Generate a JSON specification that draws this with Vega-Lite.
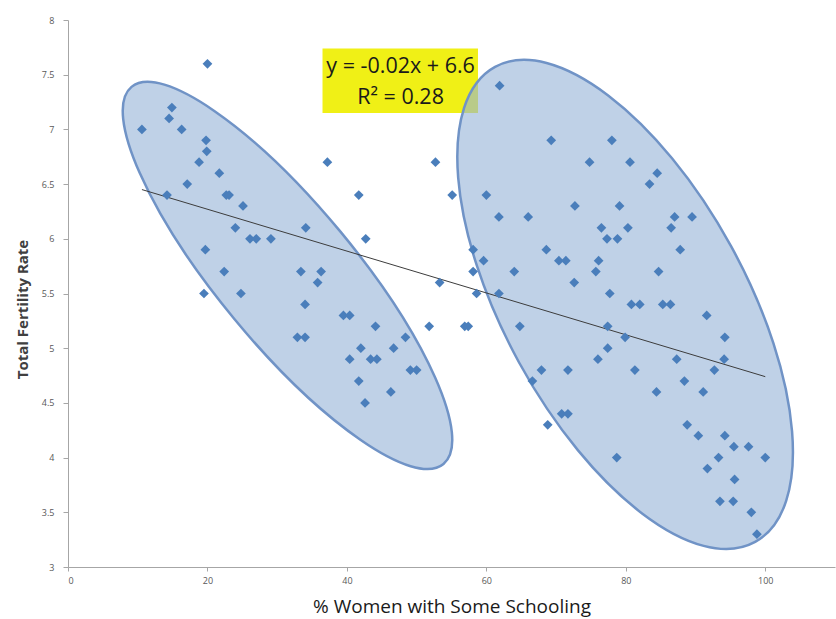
{
  "$schema": "https://vega.github.io/schema/vega-lite/v6.json",
  "width": 767,
  "height": 547,
  "autosize": "none",
  "padding": {"left": 68, "top": 20, "right": 1, "bottom": 52},
  "background": "white",
  "config": {"view": {"stroke": null}},
  "datasets": {
    "countries": [
      {"school": 20.0, "tfr": 7.6}, {"school": 10.6, "tfr": 7.0}, {"school": 14.9, "tfr": 7.2}, {"school": 14.5, "tfr": 7.1},
      {"school": 16.3, "tfr": 7.0}, {"school": 19.8, "tfr": 6.9}, {"school": 19.9, "tfr": 6.8}, {"school": 18.8, "tfr": 6.7},
      {"school": 21.7, "tfr": 6.6}, {"school": 17.1, "tfr": 6.5}, {"school": 14.2, "tfr": 6.4}, {"school": 22.7, "tfr": 6.4},
      {"school": 23.1, "tfr": 6.4}, {"school": 25.1, "tfr": 6.3}, {"school": 24.0, "tfr": 6.1}, {"school": 26.1, "tfr": 6.0},
      {"school": 27.0, "tfr": 6.0}, {"school": 29.1, "tfr": 6.0}, {"school": 19.7, "tfr": 5.9}, {"school": 22.4, "tfr": 5.7},
      {"school": 19.5, "tfr": 5.5}, {"school": 24.8, "tfr": 5.5},
      {"school": 61.9, "tfr": 7.4}, {"school": 37.2, "tfr": 6.7}, {"school": 52.7, "tfr": 6.7}, {"school": 41.7, "tfr": 6.4},
      {"school": 55.1, "tfr": 6.4}, {"school": 60.0, "tfr": 6.4}, {"school": 61.8, "tfr": 6.2}, {"school": 66.0, "tfr": 6.2},
      {"school": 34.1, "tfr": 6.1}, {"school": 42.7, "tfr": 6.0}, {"school": 58.1, "tfr": 5.9}, {"school": 59.6, "tfr": 5.8},
      {"school": 33.4, "tfr": 5.7}, {"school": 36.3, "tfr": 5.7}, {"school": 35.8, "tfr": 5.6}, {"school": 64.0, "tfr": 5.7},
      {"school": 58.1, "tfr": 5.7}, {"school": 53.3, "tfr": 5.6}, {"school": 58.6, "tfr": 5.5}, {"school": 61.8, "tfr": 5.5},
      {"school": 34.0, "tfr": 5.4}, {"school": 39.5, "tfr": 5.3}, {"school": 40.4, "tfr": 5.3}, {"school": 44.1, "tfr": 5.2},
      {"school": 51.8, "tfr": 5.2}, {"school": 56.9, "tfr": 5.2}, {"school": 57.4, "tfr": 5.2}, {"school": 64.8, "tfr": 5.2},
      {"school": 32.9, "tfr": 5.1}, {"school": 34.0, "tfr": 5.1}, {"school": 48.4, "tfr": 5.1}, {"school": 42.0, "tfr": 5.0},
      {"school": 46.7, "tfr": 5.0}, {"school": 40.4, "tfr": 4.9}, {"school": 43.4, "tfr": 4.9}, {"school": 44.3, "tfr": 4.9},
      {"school": 49.1, "tfr": 4.8}, {"school": 50.0, "tfr": 4.8}, {"school": 67.9, "tfr": 4.8}, {"school": 41.7, "tfr": 4.7},
      {"school": 66.6, "tfr": 4.7}, {"school": 46.3, "tfr": 4.6}, {"school": 42.6, "tfr": 4.5}, {"school": 68.8, "tfr": 4.3},
      {"school": 69.3, "tfr": 6.9}, {"school": 78.0, "tfr": 6.9}, {"school": 74.8, "tfr": 6.7}, {"school": 80.6, "tfr": 6.7},
      {"school": 84.5, "tfr": 6.6}, {"school": 83.4, "tfr": 6.5}, {"school": 72.7, "tfr": 6.3}, {"school": 79.1, "tfr": 6.3},
      {"school": 87.0, "tfr": 6.2}, {"school": 89.5, "tfr": 6.2}, {"school": 76.5, "tfr": 6.1}, {"school": 80.3, "tfr": 6.1},
      {"school": 86.5, "tfr": 6.1}, {"school": 77.3, "tfr": 6.0}, {"school": 78.8, "tfr": 6.0}, {"school": 68.6, "tfr": 5.9},
      {"school": 87.8, "tfr": 5.9}, {"school": 70.4, "tfr": 5.8}, {"school": 71.4, "tfr": 5.8}, {"school": 76.1, "tfr": 5.8},
      {"school": 75.7, "tfr": 5.7}, {"school": 84.7, "tfr": 5.7}, {"school": 72.6, "tfr": 5.6}, {"school": 77.7, "tfr": 5.5},
      {"school": 80.8, "tfr": 5.4}, {"school": 82.0, "tfr": 5.4}, {"school": 85.3, "tfr": 5.4}, {"school": 86.4, "tfr": 5.4},
      {"school": 91.6, "tfr": 5.3}, {"school": 94.2, "tfr": 5.1}, {"school": 77.4, "tfr": 5.2}, {"school": 79.9, "tfr": 5.1},
      {"school": 77.4, "tfr": 5.0}, {"school": 76.0, "tfr": 4.9}, {"school": 87.3, "tfr": 4.9}, {"school": 94.1, "tfr": 4.9},
      {"school": 71.7, "tfr": 4.8}, {"school": 81.3, "tfr": 4.8}, {"school": 92.7, "tfr": 4.8}, {"school": 88.4, "tfr": 4.7},
      {"school": 84.4, "tfr": 4.6}, {"school": 91.1, "tfr": 4.6}, {"school": 70.8, "tfr": 4.4}, {"school": 71.7, "tfr": 4.4},
      {"school": 88.8, "tfr": 4.3}, {"school": 90.4, "tfr": 4.2}, {"school": 94.2, "tfr": 4.2}, {"school": 95.5, "tfr": 4.1},
      {"school": 97.6, "tfr": 4.1}, {"school": 93.3, "tfr": 4.0}, {"school": 100.0, "tfr": 4.0}, {"school": 78.7, "tfr": 4.0},
      {"school": 91.7, "tfr": 3.9}, {"school": 95.6, "tfr": 3.8}, {"school": 93.5, "tfr": 3.6}, {"school": 95.4, "tfr": 3.6},
      {"school": 98.0, "tfr": 3.5}, {"school": 98.8, "tfr": 3.3}
    ],
    "box": [{"x1": 36.5, "x2": 58.8, "y1": 7.74, "y2": 7.15}],
    "leftEllipse": [{"cx": 31.48, "cy": 5.665}],
    "rightEllipse": [{"cx": 79.9, "cy": 5.40}],
    "trend": [{"x1": 10.6, "y1": 6.45, "x2": 100, "y2": 4.74}],
    "equation": [
      {"tx": 47.7, "ty": 7.573, "label": "y = -0.02x + 6.6"},
      {"tx": 47.7, "ty": 7.29, "label": "R² = 0.28"}
    ]
  },
  "layer": [
    {
      "data": {"name": "box"},
      "mark": {"type": "rect", "color": "#f0f016"},
      "encoding": {
        "x": {"field": "x1", "type": "quantitative", "scale": {"domain": [0, 109]}},
        "x2": {"field": "x2"},
        "y": {"field": "y1", "type": "quantitative", "scale": {"domain": [3, 8]}},
        "y2": {"field": "y2"}
      }
    },
    {
      "data": {"name": "leftEllipse"},
      "mark": {
        "type": "point",
        "shape": "M 244.7 0 C 244.7 37.94 135.15 68.7 0 68.7 C -135.15 68.7 -244.7 37.94 -244.7 0 C -244.7 -37.94 -135.15 -68.7 0 -68.7 C 135.15 -68.7 244.7 -37.94 244.7 0 Z",
        "size": 4,
        "angle": 50.4,
        "filled": true,
        "fill": "#95b3d7",
        "fillOpacity": 0.6,
        "stroke": "#7093c6",
        "strokeWidth": 2.5,
        "strokeOpacity": 1
      },
      "encoding": {
        "x": {"field": "cx", "type": "quantitative"},
        "y": {"field": "cy", "type": "quantitative"}
      }
    },
    {
      "data": {"name": "rightEllipse"},
      "mark": {
        "type": "point",
        "shape": "M 270.8 0 C 270.8 66.77 149.56 120.9 0 120.9 C -149.56 120.9 -270.8 66.77 -270.8 0 C -270.8 -66.77 -149.56 -120.9 0 -120.9 C 149.56 -120.9 270.8 -66.77 270.8 0 Z",
        "size": 4,
        "angle": 61.3,
        "filled": true,
        "fill": "#95b3d7",
        "fillOpacity": 0.6,
        "stroke": "#7093c6",
        "strokeWidth": 2.5,
        "strokeOpacity": 1
      },
      "encoding": {
        "x": {"field": "cx", "type": "quantitative"},
        "y": {"field": "cy", "type": "quantitative"}
      }
    },
    {
      "data": {"name": "trend"},
      "mark": {"type": "rule", "color": "#3c3c3c", "strokeWidth": 1},
      "encoding": {
        "x": {"field": "x1", "type": "quantitative"},
        "y": {"field": "y1", "type": "quantitative"},
        "x2": {"field": "x2"},
        "y2": {"field": "y2"}
      }
    },
    {
      "data": {"name": "countries"},
      "mark": {"type": "point", "shape": "diamond", "filled": true, "size": 95, "color": "#4a7ebb", "opacity": 1},
      "encoding": {
        "x": {
          "field": "school", "type": "quantitative",
          "axis": {
            "title": "% Women with Some Schooling",
            "values": [0, 20, 40, 60, 80, 100],
            "format": "d",
            "grid": false,
            "domainColor": "#a6a6a6",
            "tickColor": "#a6a6a6",
            "tickSize": 4,
            "labelFont": "Open Sans",
            "labelFontSize": 9,
            "labelColor": "#595959",
            "labelPadding": 5,
            "titleFont": "Open Sans",
            "titleFontSize": 19,
            "titleFontWeight": "normal",
            "titleColor": "#1a1a1a",
            "titlePadding": 12
          }
        },
        "y": {
          "field": "tfr", "type": "quantitative",
          "axis": {
            "title": "Total Fertility Rate",
            "values": [3, 3.5, 4, 4.5, 5, 5.5, 6, 6.5, 7, 7.5, 8],
            "format": "~g",
            "grid": false,
            "domainColor": "#a6a6a6",
            "tickColor": "#a6a6a6",
            "tickSize": 5,
            "labelFont": "Open Sans",
            "labelFontSize": 9,
            "labelColor": "#595959",
            "labelPadding": 9,
            "titleFont": "Open Sans",
            "titleFontSize": 15,
            "titleFontWeight": "bold",
            "titleColor": "#404040",
            "titlePadding": 11,
            "titleY": 289
          }
        }
      }
    },
    {
      "data": {"name": "equation"},
      "mark": {"type": "text", "font": "Open Sans", "fontSize": 21.5, "color": "#1a1a1a", "align": "center", "baseline": "middle"},
      "encoding": {
        "x": {"field": "tx", "type": "quantitative"},
        "y": {"field": "ty", "type": "quantitative"},
        "text": {"field": "label"}
      }
    }
  ]
}
